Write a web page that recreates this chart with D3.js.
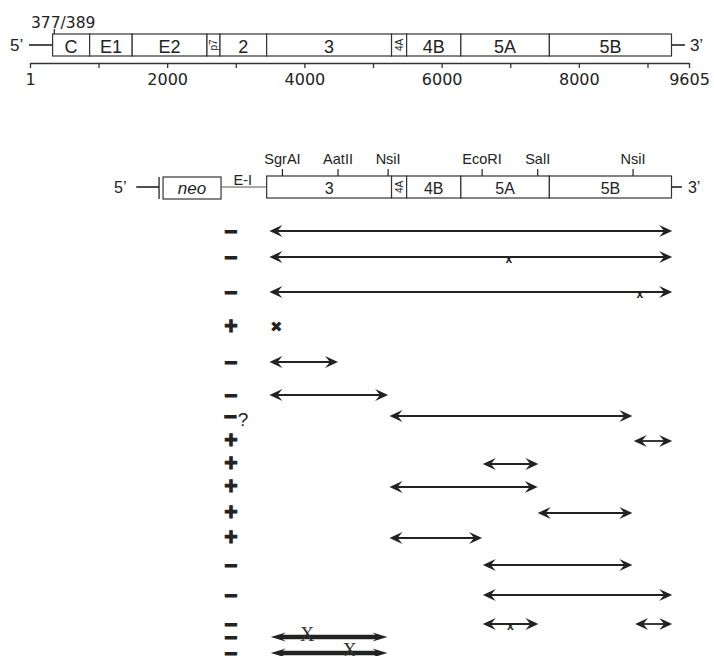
<!DOCTYPE html>
<html>
<head>
<meta charset="utf-8">
<script src="https://cdn.jsdelivr.net/npm/d3@7"></script>
<style>
  body { margin: 0; background: #fff; }
  svg { display: block; font-family: "Liberation Sans", Arial, sans-serif; }
  .axis path, .axis line { stroke: #333; stroke-width: 1.3px; }
  .axis text { font-family: "DejaVu Sans", sans-serif; font-size: 16px; fill: #222; }
</style>
</head>
<body>
<div id="chart"></div>
<script>
// genome coordinates (nt)
const genomeRange = [1, 9605];
const axisTicks = [1, 1000, 2000, 3000, 4000, 5000, 6000, 7000, 8000, 9000, 9605];
const axisLabels = [1, 2000, 4000, 6000, 8000, 9605];

const genes = ["C", "E1", "E2", "p7", "2", "3", "4A", "4B", "5A", "5B"];
const geneStarts = [330, 870, 1490, 2580, 2770, 3450, 5270, 5490, 6280, 7570];
const polyEnd = 9350;
const utr5Start = 1;
const utr3End = 9545;
const startCodon = 377;
const startLabel = "377/389";

// replicon
const repliconGenes = ["3", "4A", "4B", "5A", "5B"];
const neoRange = [1940, 2785];
const replicon5Start = 1550;
const ireslabel = "E-I";
const siteNames = ["SgrAI", "AatII", "NsiI", "EcoRI", "SalI", "NsiI"];
const sitePos = [3680, 4490, 5220, 6590, 7400, 8790];

// fragments tested
const rowSigns = ["–", "–", "–", "+", "–", "–", "–?", "+", "+", "+", "+", "+", "–", "–", "–", "–", "–"];
const rowFragments = [
  [[3490, 9360]],
  [[3490, 9360]],
  [[3490, 9360]],
  [],
  [[3490, 4490]],
  [[3490, 5220]],
  [[5240, 8780]],
  [[8800, 9360]],
  [[6600, 7410]],
  [[5240, 7400]],
  [[7400, 8780]],
  [[5240, 6590]],
  [[6600, 8780]],
  [[6600, 9360]],
  [[6600, 7410], [8820, 9360]],
  [[3510, 5210]],
  [[3510, 5210]]
];
const rowMarks = [[], [6980], [8890], [3590], [], [], [], [], [], [], [], [], [], [], [7000], [4040], [4660]];

// layout
const rowY = [231, 257, 292, 327, 362, 395, 416, 441, 464, 487, 513, 538, 565, 595, 624, 637, 653];
const boldRows = [15, 16];
const ink = "#222";

const svg = d3.select("#chart").append("svg")
  .attr("width", 714)
  .attr("height", 656);

const x = d3.scaleLinear().domain(genomeRange).range([30, 689]);

// ---------- top genome map ----------
const topBar = { y0: 34, y1: 56 };
const midTop = (topBar.y0 + topBar.y1) / 2;

svg.append("text").attr("x", 10).attr("y", midTop + 6)
  .style("font-size", "17px").attr("fill", ink).text("5’");
svg.append("line").attr("x1", x(utr5Start) - 1).attr("x2", x(geneStarts[0]))
  .attr("y1", midTop).attr("y2", midTop).attr("stroke", ink).attr("stroke-width", 1.6);
svg.append("line").attr("x1", x(polyEnd)).attr("x2", x(utr3End))
  .attr("y1", midTop).attr("y2", midTop).attr("stroke", ink).attr("stroke-width", 1.6);
svg.append("text").attr("x", x(utr3End) + 5).attr("y", midTop + 6)
  .style("font-size", "17px").attr("fill", ink).text("3’");

svg.append("line").attr("x1", x(startCodon) - 1.5).attr("x2", x(startCodon) - 1.5)
  .attr("y1", 29).attr("y2", topBar.y0).attr("stroke", ink).attr("stroke-width", 1.2);
svg.append("text").attr("x", x(1) + 1).attr("y", 28)
  .style("font-family", "'DejaVu Sans', sans-serif")
  .style("font-size", "15.5px").attr("fill", ink).text(startLabel);

const geneEnds = geneStarts.slice(1).concat([polyEnd]);

function drawGenes(names, starts, ends, y0, y1, fs, base) {
  const g = svg.append("g");
  const cells = g.selectAll("g").data(names).enter().append("g");
  cells.append("rect")
    .attr("x", (d, i) => x(starts[i]))
    .attr("y", y0)
    .attr("width", (d, i) => x(ends[i]) - x(starts[i]))
    .attr("height", y1 - y0)
    .attr("fill", "#fff")
    .attr("stroke", "#333")
    .attr("stroke-width", 1.2);
  cells.append("text")
    .attr("transform", (d, i) => {
      const cx = (x(starts[i]) + x(ends[i])) / 2;
      const w = x(ends[i]) - x(starts[i]);
      return w < 20 ? `translate(${cx + 3.5},${(y0 + y1) / 2}) rotate(-90)` : `translate(${cx},${base})`;
    })
    .attr("text-anchor", "middle")
    .style("font-size", (d, i) => (x(ends[i]) - x(starts[i]) < 20 ? "10px" : fs))
    .attr("fill", ink)
    .text(d => d);
}

drawGenes(genes, geneStarts, geneEnds, topBar.y0, topBar.y1, "18px", 53);

svg.append("g")
  .attr("class", "axis")
  .attr("transform", "translate(0,63)")
  .call(d3.axisBottom(x)
    .tickValues(axisTicks)
    .tickSize(5)
    .tickSizeOuter(0)
    .tickPadding(6)
    .tickFormat(d => axisLabels.includes(d) ? d : ""));

// ---------- replicon map ----------
const rep = { y0: 176, y1: 198 };
const midRep = 187;

svg.append("text").attr("x", 114).attr("y", midRep + 6)
  .style("font-size", "16px").attr("fill", ink).text("5’");
svg.append("line").attr("x1", x(replicon5Start)).attr("x2", x(neoRange[0]) - 4)
  .attr("y1", midRep).attr("y2", midRep).attr("stroke", ink).attr("stroke-width", 1.6);
svg.append("line").attr("x1", x(neoRange[0]) - 4).attr("x2", x(neoRange[0]) - 4)
  .attr("y1", rep.y0 + 1).attr("y2", rep.y1 + 1).attr("stroke", ink).attr("stroke-width", 1.3);
svg.append("rect")
  .attr("x", x(neoRange[0])).attr("y", rep.y0 + 1)
  .attr("width", x(neoRange[1]) - x(neoRange[0])).attr("height", rep.y1 - rep.y0)
  .attr("fill", "#fff").attr("stroke", "#333").attr("stroke-width", 1.2);
svg.append("text")
  .attr("x", (x(neoRange[0]) + x(neoRange[1])) / 2).attr("y", 194)
  .attr("text-anchor", "middle").style("font-size", "17px").style("font-style", "italic")
  .attr("fill", ink).text("neo");
svg.append("line").attr("x1", x(neoRange[1])).attr("x2", x(geneStarts[5]))
  .attr("y1", midRep).attr("y2", midRep).attr("stroke", "#555").attr("stroke-width", 1.2);
svg.append("text")
  .attr("x", (x(neoRange[1]) + x(geneStarts[5])) / 2 - 1).attr("y", 185)
  .attr("text-anchor", "middle").style("font-size", "14.5px").attr("fill", ink).text(ireslabel);

drawGenes(repliconGenes, geneStarts.slice(5), geneEnds.slice(5), rep.y0, rep.y1, "16px", 194);

svg.append("line").attr("x1", x(polyEnd)).attr("x2", x(utr3End) - 3)
  .attr("y1", midRep).attr("y2", midRep).attr("stroke", ink).attr("stroke-width", 1.6);
svg.append("text").attr("x", x(utr3End) + 3).attr("y", midRep + 6)
  .style("font-size", "16px").attr("fill", ink).text("3’");

const sites = svg.append("g").selectAll("g").data(siteNames).enter().append("g")
  .attr("transform", (d, i) => `translate(${x(sitePos[i])},0)`);
sites.append("line").attr("y1", 169).attr("y2", rep.y0).attr("stroke", ink).attr("stroke-width", 1.2);
sites.append("text").attr("y", 164).attr("text-anchor", "middle")
  .style("font-size", "14.5px").attr("fill", ink).text(d => d);

// ---------- fragment rows ----------
function arrowHead(g, tipX, y, dir, len, half) {
  const b = tipX - dir * len;
  const n = tipX - dir * len * 0.62;
  g.append("path")
    .attr("d", `M${tipX},${y} L${b},${y - half} L${n},${y} L${b},${y + half} Z`)
    .attr("fill", ink);
}

const rows = svg.append("g").selectAll("g").data(rowSigns).enter().append("g");

rows.each(function(sign, i) {
  const g = d3.select(this);
  const y = rowY[i];
  const bold = boldRows.includes(i);

  const t = g.append("text")
    .attr("x", 231).attr("y", y + 7)
    .attr("text-anchor", sign.length > 1 ? "start" : "middle")
    .attr("dx", sign.length > 1 ? -7 : 0)
    .style("font-size", "23px").style("font-weight", "bold")
    .attr("fill", ink);
  t.append("tspan").attr("stroke", ink).attr("stroke-width", 1).text(sign[0]);
  if (sign.length > 1) {
    t.append("tspan").style("font-weight", "normal").style("font-size", "19px")
      .attr("dx", 1).attr("dy", 3).text(sign.slice(1));
  }

  rowFragments[i].forEach(f => {
    const x0 = x(f[0]), x1 = x(f[1]);
    const len = bold ? 15 : 13;
    const half = bold ? 4.5 : 6;
    g.append("line")
      .attr("x1", x0 + len * 0.6).attr("x2", x1 - len * 0.6)
      .attr("y1", y).attr("y2", y)
      .attr("stroke", ink).attr("stroke-width", bold ? 4.5 : 1.8);
    arrowHead(g, x0, y, -1, len, half);
    arrowHead(g, x1, y, 1, len, half);
  });

  rowMarks[i].forEach(m => {
    if (bold) {
      g.append("text").attr("x", x(m)).attr("y", y + 4)
        .attr("text-anchor", "middle")
        .style("font-family", "'Liberation Serif', serif").style("font-size", "20px")
        .attr("fill", "#333").text("X");
    } else if (rowFragments[i].length === 0) {
      g.append("text").attr("x", x(m)).attr("y", y + 5)
        .attr("text-anchor", "middle")
        .style("font-family", "'DejaVu Sans', sans-serif").style("font-size", "15px")
        .attr("fill", ink).text("✖");
    } else {
      g.append("text").attr("x", x(m)).attr("y", y + 6)
        .attr("text-anchor", "middle")
        .style("font-size", "12px").style("font-weight", "bold")
        .attr("fill", ink).text("x");
    }
  });
});
</script>
</body>
</html>
